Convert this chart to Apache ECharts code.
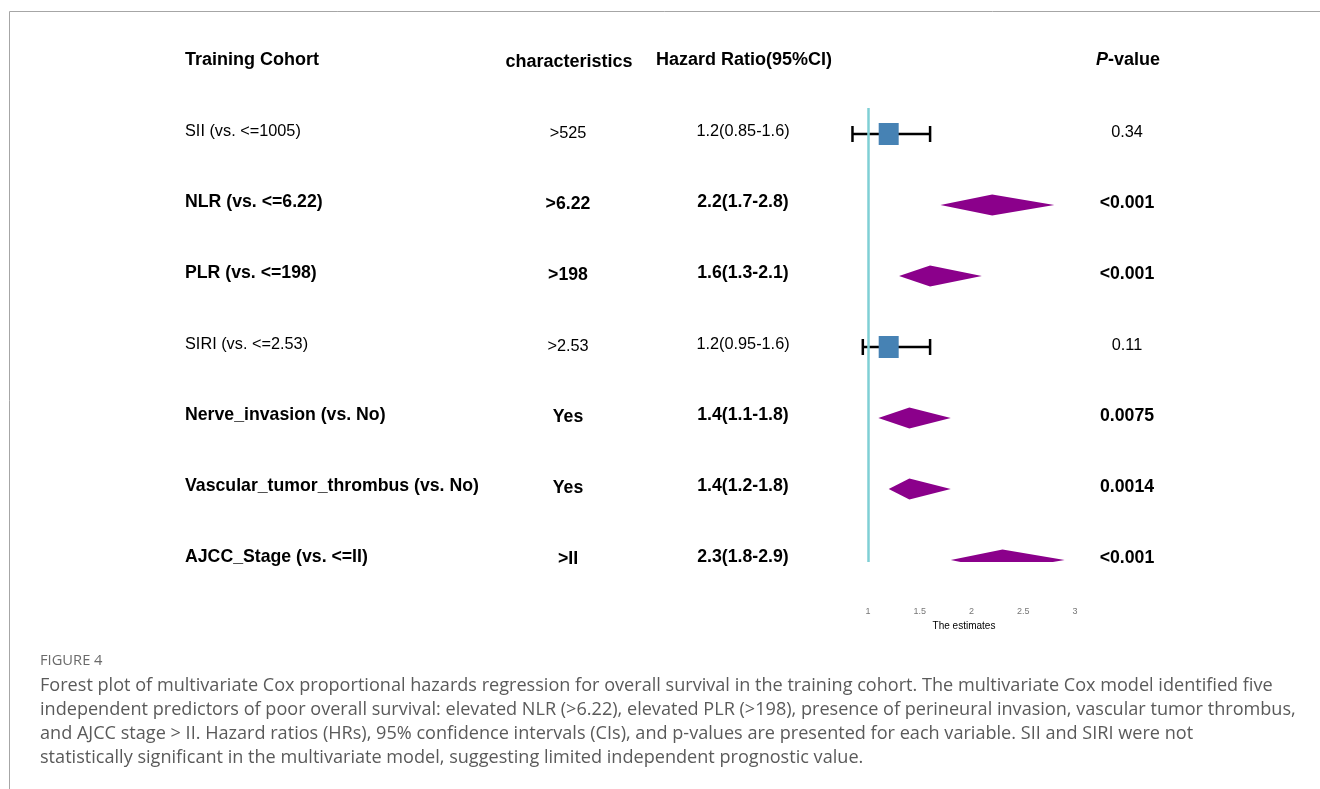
<!DOCTYPE html>
<html>
<head>
<meta charset="utf-8">
<script src="https://cdn.jsdelivr.net/npm/echarts@6/dist/echarts.min.js"></script>
<style>
html,body{margin:0;padding:0;background:#fff;}
#chart{width:1320px;height:789px;}
</style>
</head>
<body>
<div id="chart"></div>
<script>
// ---- data ----
const variables = ['SII (vs. <=1005)', 'NLR (vs. <=6.22)', 'PLR (vs. <=198)', 'SIRI (vs. <=2.53)',
  'Nerve_invasion (vs. No)', 'Vascular_tumor_thrombus (vs. No)', 'AJCC_Stage (vs. <=II)'];
const characteristics = ['>525', '>6.22', '>198', '>2.53', 'Yes', 'Yes', '>II'];
const hazardRatio = [1.2, 2.2, 1.6, 1.2, 1.4, 1.4, 2.3];
const ciLower = [0.85, 1.7, 1.3, 0.95, 1.1, 1.2, 1.8];
const ciUpper = [1.6, 2.8, 2.1, 1.6, 1.8, 1.8, 2.9];
const pValues = ['0.34', '<0.001', '<0.001', '0.11', '0.0075', '0.0014', '<0.001'];
const significant = [0, 1, 1, 0, 1, 1, 1];
const xTicks = [1, 1.5, 2, 2.5, 3];
const headers = ['Training Cohort', 'characteristics', 'Hazard Ratio(95%CI)', 'P-value'];
const captionTitle = 'FIGURE 4';
const captionLines = [
  'Forest plot of multivariate Cox proportional hazards regression for overall survival in the training cohort. The multivariate Cox model identified five',
  'independent predictors of poor overall survival: elevated NLR (>6.22), elevated PLR (>198), presence of perineural invasion, vascular tumor thrombus,',
  'and AJCC stage > II. Hazard ratios (HRs), 95% confidence intervals (CIs), and p-values are presented for each variable. SII and SIRI were not',
  'statistically significant in the multivariate model, suggesting limited independent prognostic value.'
];

const FONT = '"Liberation Sans", Arial, sans-serif';
const markData = hazardRatio.map((h, i) => [h, i, ciLower[i], ciUpper[i], significant[i]]);
const rowData = variables.map((v, i) => [1, i]);

const chart = echarts.init(document.getElementById('chart'), null, {renderer: 'canvas'});

const graphics = [
  {type: 'line', shape: {x1: 9.5, y1: 11.5, x2: 1320, y2: 11.5}, style: {stroke: '#a6a6a6', lineWidth: 1}},
  {type: 'line', shape: {x1: 9.5, y1: 11.5, x2: 9.5, y2: 789}, style: {stroke: '#a6a6a6', lineWidth: 1}},
  {type: 'text', x: 185, y: 60, style: {text: headers[0], font: 'bold 18px ' + FONT, fill: '#000', align: 'left', verticalAlign: 'middle'}},
  {type: 'text', x: 569, y: 62, style: {text: headers[1], font: 'bold 18px ' + FONT, fill: '#000', align: 'center', verticalAlign: 'middle'}},
  {type: 'text', x: 656, y: 60, style: {text: headers[2], font: 'bold 18px ' + FONT, fill: '#000', align: 'left', verticalAlign: 'middle'}},
  {type: 'text', x: 1128, y: 60, style: {text: '{i|P}{n|-value}', align: 'center', verticalAlign: 'middle',
    rich: {i: {font: 'italic bold 18px ' + FONT, fill: '#000'}, n: {font: 'bold 18px ' + FONT, fill: '#000'}}}},
  {type: 'text', x: 40, y: 661, style: {text: captionTitle, font: '14.7px "Open Sans", sans-serif', fill: '#6a6a6a', align: 'left', verticalAlign: 'middle'}}
];
captionLines.forEach((t, k) => {
  graphics.push({type: 'text', x: 40, y: 686 + 24 * k, style: {text: t, font: '18.1px "Open Sans", sans-serif', fill: '#5a5a5a', align: 'left', verticalAlign: 'middle'}});
});

const option = {
  backgroundColor: '#fff',
  animation: false,
  grid: {left: 816.25, right: 208.3, top: 108, height: 454, containLabel: false},
  xAxis: {
    type: 'value', min: 0.5, max: 3.355,
    axisLine: {show: false}, axisTick: {show: false}, splitLine: {show: false},
    axisLabel: {customValues: xTicks, margin: 45, fontSize: 9, color: '#777', fontFamily: FONT},
    name: 'The estimates', nameLocation: 'middle', nameGap: 57,
    nameTextStyle: {fontSize: 10, color: '#000', fontFamily: FONT}
  },
  yAxis: {type: 'value', inverse: true, min: -0.366, max: 6.028, show: false},
  graphic: graphics,
  series: [
    {
      type: 'custom', name: 'marks', clip: true,
      encode: {x: 0, y: 1},
      data: markData,
      renderItem: function (params, api) {
        const hr = api.value(0), i = api.value(1), lo = api.value(2), up = api.value(3), sig = api.value(4);
        const c = api.coord([hr, i]);
        const l = api.coord([lo, i]);
        const u = api.coord([up, i]);
        if (sig) {
          return {type: 'polygon', shape: {points: [[l[0], c[1]], [c[0], c[1] - 10.5], [u[0], c[1]], [c[0], c[1] + 10.5]]},
            style: {fill: '#8b008b'}};
        }
        return {type: 'group', children: [
          {type: 'line', shape: {x1: l[0], y1: c[1], x2: u[0], y2: c[1]}, style: {stroke: '#000', lineWidth: 2.5}},
          {type: 'line', shape: {x1: l[0], y1: c[1] - 8, x2: l[0], y2: c[1] + 8}, style: {stroke: '#000', lineWidth: 2.5}},
          {type: 'line', shape: {x1: u[0], y1: c[1] - 8, x2: u[0], y2: c[1] + 8}, style: {stroke: '#000', lineWidth: 2.5}},
          {type: 'rect', shape: {x: c[0] - 10, y: c[1] - 11, width: 20, height: 22}, style: {fill: '#4682b4'}}
        ]};
      },
      markLine: {
        silent: true, symbol: 'none', label: {show: false},
        lineStyle: {color: '#7fcfd5', width: 2.5, type: 'solid'},
        data: [{xAxis: 1}]
      },
      z: 3
    },
    {
      type: 'custom', name: 'table', clip: false,
      encode: {x: 0, y: 1},
      data: rowData,
      renderItem: function (params, api) {
        const i = api.value(1);
        const y = api.coord([1, i])[1] - 2.5;
        const sig = significant[i];
        const font = sig ? 'bold 17.7px ' + FONT : '16.3px ' + FONT;
        const ht = hazardRatio[i] + '(' + ciLower[i] + '-' + ciUpper[i] + ')';
        return {type: 'group', children: [
          {type: 'text', style: {text: variables[i], x: 185, y: y, font: font, fill: '#000', align: 'left', verticalAlign: 'middle'}},
          {type: 'text', style: {text: characteristics[i], x: 568, y: y + 2, font: font, fill: '#000', align: 'center', verticalAlign: 'middle'}},
          {type: 'text', style: {text: ht, x: 743, y: y, font: font, fill: '#000', align: 'center', verticalAlign: 'middle'}},
          {type: 'text', style: {text: pValues[i], x: 1127, y: y + 1, font: font, fill: '#000', align: 'center', verticalAlign: 'middle'}}
        ]};
      }
    }
  ]
};
chart.setOption(option);
</script>
</body>
</html>
